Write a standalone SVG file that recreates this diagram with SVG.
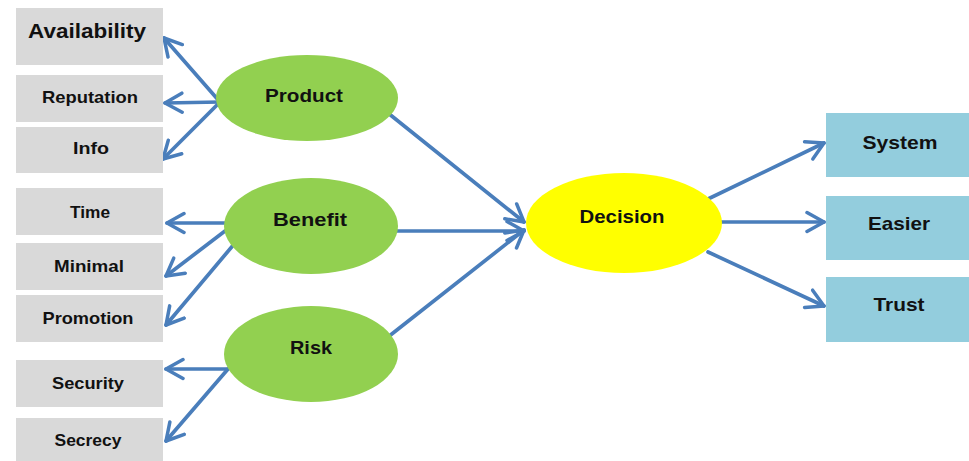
<svg xmlns="http://www.w3.org/2000/svg" width="969" height="461" viewBox="0 0 969 461">
<defs>
<marker id="arr" viewBox="-2 -2 22 24" refX="17" refY="10" markerWidth="22" markerHeight="24" markerUnits="userSpaceOnUse" orient="auto">
<path d="M0,0.5 L17,10 L0,19.5" fill="none" stroke="#4A7EBB" stroke-width="3.5" stroke-linecap="round" stroke-linejoin="round"/>
</marker>
<style>
.gray{fill:#D9D9D9}
.blue{fill:#93CDDD}
.green{fill:#92D050}
.yellow{fill:#FFFF00}
text{font-family:"Liberation Sans",Arial,sans-serif;font-weight:bold;fill:#111;text-anchor:middle}
.s{font-size:16.5px}
.m{font-size:19px}
.l{font-size:20px}
.c line{stroke:#4A7EBB;stroke-width:3.7;marker-end:url(#arr);stroke-linecap:round}
</style>
</defs>
<rect width="969" height="461" fill="#fff"/>
<g class="c" id="connectors">
<line x1="220" y1="102" x2="164" y2="38"/>
<line x1="220" y1="102" x2="165" y2="103"/>
<line x1="220" y1="102" x2="163" y2="159"/>
<line x1="230" y1="223" x2="167" y2="223"/>
<line x1="225" y1="231" x2="166" y2="276"/>
<line x1="235" y1="243" x2="166" y2="325"/>
<line x1="228" y1="369" x2="166" y2="369"/>
<line x1="228" y1="369" x2="166" y2="441"/>
<line x1="388" y1="113" x2="524" y2="222"/>
<line x1="396" y1="231" x2="524" y2="231"/>
<line x1="388" y1="337" x2="524" y2="230"/>
<line x1="708" y1="199" x2="824" y2="143"/>
<line x1="721" y1="222" x2="824" y2="222"/>
<line x1="708" y1="252" x2="824" y2="306"/>
</g>
<g id="availability"><rect class="gray" x="16" y="8" width="147" height="57"/><text class="l" x="87" y="38" textLength="118" lengthAdjust="spacingAndGlyphs">Availability</text></g>
<g id="reputation"><rect class="gray" x="16" y="75" width="147" height="47"/><text class="s" x="90" y="103" textLength="96" lengthAdjust="spacingAndGlyphs">Reputation</text></g>
<g id="info"><rect class="gray" x="16" y="127" width="147" height="46"/><text class="s" x="91" y="154" textLength="36" lengthAdjust="spacingAndGlyphs">Info</text></g>
<g id="time"><rect class="gray" x="16" y="188" width="147" height="47"/><text class="s" x="90" y="218" textLength="40" lengthAdjust="spacingAndGlyphs">Time</text></g>
<g id="minimal"><rect class="gray" x="16" y="243" width="147" height="47"/><text class="s" x="89" y="272" textLength="70" lengthAdjust="spacingAndGlyphs">Minimal</text></g>
<g id="promotion"><rect class="gray" x="16" y="295" width="147" height="47"/><text class="s" x="88" y="324" textLength="91" lengthAdjust="spacingAndGlyphs">Promotion</text></g>
<g id="security"><rect class="gray" x="16" y="360" width="147" height="47"/><text class="s" x="88" y="389" textLength="72" lengthAdjust="spacingAndGlyphs">Security</text></g>
<g id="secrecy"><rect class="gray" x="16" y="418" width="147" height="43"/><text class="s" x="88" y="446" textLength="67" lengthAdjust="spacingAndGlyphs">Secrecy</text></g>
<g id="product"><ellipse class="green" cx="307" cy="98" rx="91" ry="43"/><text class="m" x="304" y="102" textLength="78" lengthAdjust="spacingAndGlyphs">Product</text></g>
<g id="benefit"><ellipse class="green" cx="311" cy="226" rx="87" ry="48"/><text class="m" x="310" y="226" textLength="74" lengthAdjust="spacingAndGlyphs">Benefit</text></g>
<g id="risk"><ellipse class="green" cx="311" cy="354" rx="87" ry="48"/><text class="m" x="311" y="354" textLength="42" lengthAdjust="spacingAndGlyphs">Risk</text></g>
<g id="decision"><ellipse class="yellow" cx="624" cy="223" rx="98" ry="50"/><text class="m" x="622" y="223" textLength="85" lengthAdjust="spacingAndGlyphs">Decision</text></g>
<g id="system"><rect class="blue" x="826" y="113" width="143" height="64"/><text class="m" x="900" y="149" textLength="75" lengthAdjust="spacingAndGlyphs">System</text></g>
<g id="easier"><rect class="blue" x="826" y="196" width="143" height="64"/><text class="m" x="899" y="230" textLength="62" lengthAdjust="spacingAndGlyphs">Easier</text></g>
<g id="trust"><rect class="blue" x="826" y="277" width="143" height="65"/><text class="m" x="899" y="311" textLength="51" lengthAdjust="spacingAndGlyphs">Trust</text></g>
</svg>
